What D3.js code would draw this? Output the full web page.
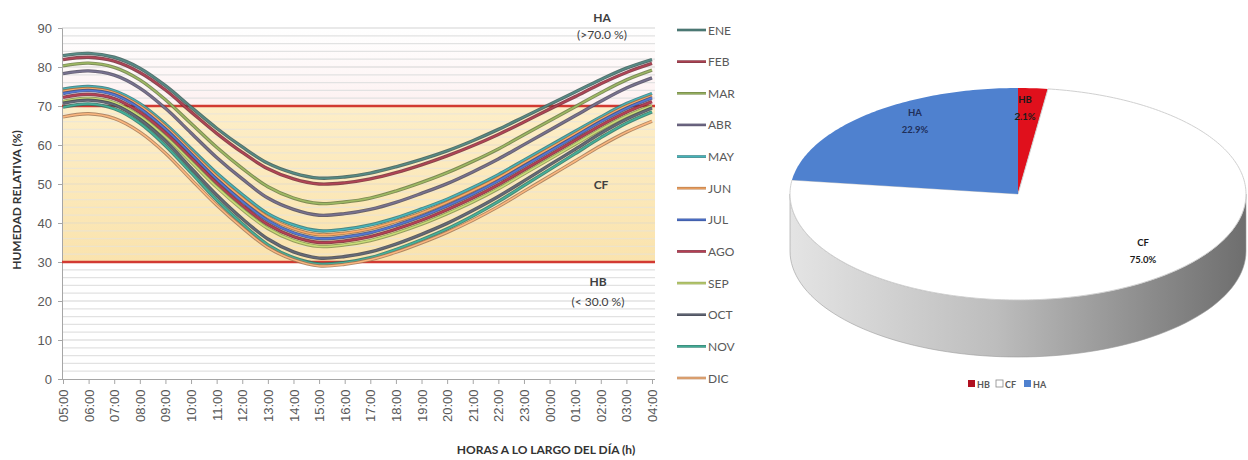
<!DOCTYPE html>
<html>
<head>
<meta charset="utf-8">
<script src="https://cdn.jsdelivr.net/npm/d3@7/dist/d3.min.js"></script>
<style>
  html, body { margin: 0; padding: 0; background: #ffffff; }
  svg { display: block; font-family: Lato, "Open Sans", sans-serif; }
</style>
</head>
<body>
<svg id="chart" width="1248" height="460"></svg>
<script>
// Hourly relative humidity by month (%), 05:00 through 04:00
const hours = ["05:00","06:00","07:00","08:00","09:00","10:00","11:00","12:00","13:00","14:00","15:00","16:00",
               "17:00","18:00","19:00","20:00","21:00","22:00","23:00","00:00","01:00","02:00","03:00","04:00"];
const months = ["ENE","FEB","MAR","ABR","MAY","JUN","JUL","AGO","SEP","OCT","NOV","DIC"];
const monthColors = ["#4d7d78","#a03c4c","#8ea75a","#6c6682","#3fa3a8","#e39a5c",
                     "#4a6cc0","#a5384c","#b4c76b","#5a5f6e","#3ca08c","#e2a472"];

const ene = [82.9,83.5,82.5,79.7,75.2,69.7,64.3,59.5,55.3,52.8,51.5,51.8,52.8,54.4,56.3,58.5,61.1,64.0,67.2,70.4,73.6,76.8,79.7,81.9];
const feb = [81.9,82.5,81.5,78.6,74.1,68.5,63.0,58.1,53.9,51.3,50.0,50.3,51.3,52.9,54.9,57.2,59.8,62.7,65.9,69.2,72.4,75.7,78.6,80.9];
const mar = [80.3,81.0,79.9,76.7,71.6,65.5,59.4,54.0,49.3,46.4,45.0,45.4,46.4,48.2,50.4,52.9,55.8,59.0,62.6,66.2,69.8,73.4,76.7,79.2];
const abr = [78.3,79.0,77.9,74.6,69.4,63.1,56.8,51.3,46.4,43.5,42.0,42.4,43.5,45.3,47.6,50.1,53.1,56.4,60.1,63.8,67.5,71.2,74.6,77.2];
const may = [74.3,75.0,73.9,70.6,65.4,59.1,52.8,47.3,42.4,39.5,38.0,38.4,39.5,41.3,43.6,46.1,49.1,52.4,56.1,59.8,63.5,67.2,70.6,73.2];
const jun = [73.8,74.5,73.4,70.0,64.8,58.4,52.0,46.4,41.5,38.5,37.0,37.4,38.5,40.4,42.6,45.3,48.3,51.6,55.4,59.1,62.9,66.6,70.0,72.6];
const jul = [73.2,74.0,72.9,69.4,64.1,57.7,51.2,45.5,40.6,37.5,36.0,36.4,37.5,39.4,41.7,44.4,47.4,50.8,54.6,58.4,62.2,66.0,69.4,72.1];
const ago = [72.2,73.0,71.9,68.4,63.1,56.7,50.2,44.5,39.6,36.5,35.0,35.4,36.5,38.4,40.7,43.4,46.4,49.8,53.6,57.4,61.2,65.0,68.4,71.1];
const sep = [71.2,72.0,70.9,67.4,62.1,55.7,49.2,43.5,38.6,35.5,34.0,34.4,35.5,37.4,39.7,42.4,45.4,48.8,52.6,56.4,60.2,64.0,67.4,70.1];
const oct = [70.7,71.5,70.3,66.6,61.0,54.1,47.2,41.1,35.9,32.6,31.0,31.4,32.6,34.6,37.1,39.9,43.2,46.8,50.8,54.9,58.9,63.0,66.6,69.5];
const nov = [69.7,70.5,69.3,65.6,59.8,52.9,45.9,39.8,34.4,31.1,29.5,29.9,31.1,33.2,35.7,38.5,41.8,45.5,49.6,53.7,57.8,61.9,65.6,68.5];
const dic = [67.2,68.0,66.8,63.3,57.9,51.2,44.6,38.8,33.7,30.6,29.0,29.4,30.6,32.5,34.9,37.6,40.7,44.2,48.1,52.0,55.9,59.8,63.3,66.1];
const monthValues = [ene,feb,mar,abr,may,jun,jul,ago,sep,oct,nov,dic];

// Comfort thresholds (%)
const upperLimit = 70;
const lowerLimit = 30;
const yTicks = [0,10,20,30,40,50,60,70,80,90];

// Share of hours in each humidity zone
const zoneNames = ["HB","CF","HA"];
const zoneShares = [2.1,75.0,22.9];
const zoneColors = ["#e0101c","#ffffff","#4f81cf"];

const svg = d3.select("#chart");
const defs = svg.append("defs");

/* ---------------- Line chart ---------------- */
const x = d3.scalePoint().domain(hours).range([63, 652]);
const y = d3.scaleLinear().domain([0, 90]).range([379, 28]);
const plotL = 62, plotR = 655;

// comfort band fill
const bandGrad = defs.append("linearGradient").attr("id","band").attr("x1",0).attr("x2",0).attr("y1",0).attr("y2",1);
bandGrad.append("stop").attr("offset","0%").attr("stop-color","#fdeec8");
bandGrad.append("stop").attr("offset","100%").attr("stop-color","#fae3ad");
const topGrad = defs.append("linearGradient").attr("id","topband").attr("x1",0).attr("x2",0).attr("y1",0).attr("y2",1);
topGrad.append("stop").attr("offset","0%").attr("stop-color","#ffffff");
topGrad.append("stop").attr("offset","100%").attr("stop-color","#fdf1f1");

svg.append("rect").attr("x", plotL).attr("width", plotR - plotL)
  .attr("y", y(90)).attr("height", y(upperLimit) - y(90)).attr("fill", "url(#topband)");
svg.append("rect").attr("x", plotL).attr("width", plotR - plotL)
  .attr("y", y(upperLimit)).attr("height", y(lowerLimit) - y(upperLimit)).attr("fill", "url(#band)");

// horizontal gridlines every 2 %
const gridVals = d3.range(2, 91, 2);
svg.append("g").selectAll("line").data(gridVals).join("line")
  .attr("x1", plotL).attr("x2", plotR)
  .attr("y1", d => y(d)).attr("y2", d => y(d))
  .attr("stroke", d => d % 10 === 0 ? "#d4d4d4" : "#e2e2e2")
  .attr("stroke-opacity", d => (d > lowerLimit && d < upperLimit) ? 0.55 : 1)
  .attr("stroke-width", 1.2);

// axes
const yAxis = svg.append("g").attr("transform", `translate(${plotL},0)`)
  .call(d3.axisLeft(y).tickValues(yTicks).tickSize(4).tickPadding(6));
yAxis.select(".domain").attr("stroke", "#a6a6a6");
yAxis.selectAll(".tick line").attr("stroke", "#a6a6a6");
yAxis.selectAll("text").attr("fill", "#595959").attr("font-size", 13);

const xAxis = svg.append("g").attr("transform", `translate(0,${y(0)})`)
  .call(d3.axisBottom(x).tickSize(5).tickPadding(4));
xAxis.select(".domain").attr("stroke", "#a6a6a6").attr("d", `M${plotL},0.5H${plotR}`);
xAxis.selectAll(".tick line").attr("stroke", "#a6a6a6");
xAxis.selectAll("text").attr("fill", "#595959").attr("font-size", 13)
  .attr("transform", "rotate(-90)").attr("text-anchor", "end")
  .attr("dx", "-0.5em").attr("dy", "0.35em").attr("x", -4).attr("y", 0);

// threshold lines
svg.append("g").selectAll("line").data([upperLimit, lowerLimit]).join("line")
  .attr("x1", plotL).attr("x2", plotR)
  .attr("y1", d => y(d)).attr("y2", d => y(d))
  .attr("stroke", "#d23a32").attr("stroke-width", 2.6);

// monthly curves
const line = d3.line().x((d, i) => x(hours[i])).y(d => y(d)).curve(d3.curveCatmullRom);
const curves = svg.append("g");
monthValues.forEach((vals, k) => {
  const c = d3.color(monthColors[k]);
  curves.append("path").attr("d", line(vals)).attr("fill", "none")
    .attr("stroke", c.darker(0.9)).attr("stroke-width", 3.4).attr("stroke-opacity", 0.85);
  curves.append("path").attr("d", line(vals)).attr("fill", "none")
    .attr("stroke", c.brighter(0.3)).attr("stroke-width", 1.5);
});

// zone labels
const zoneText = svg.append("g").attr("font-size", 12).attr("fill", "#404040").attr("text-anchor", "middle");
zoneText.append("text").attr("x", 602).attr("y", 22).attr("font-weight", "bold").text("HA");
zoneText.append("text").attr("x", 602).attr("y", 39).text("(>70.0  %)");
zoneText.append("text").attr("x", 601).attr("y", 189).attr("font-weight", "bold").text("CF");
zoneText.append("text").attr("x", 598).attr("y", 286).attr("font-weight", "bold").text("HB");
zoneText.append("text").attr("x", 598).attr("y", 306).text("(< 30.0 %)");

// axis titles
svg.append("text").attr("transform", "translate(21,200) rotate(-90)")
  .attr("text-anchor", "middle").attr("font-size", 12).attr("font-weight", "bold").attr("fill", "#333")
  .text("HUMEDAD RELATIVA  (%)");
svg.append("text").attr("x", 546).attr("y", 454)
  .attr("text-anchor", "middle").attr("font-size", 12).attr("font-weight", "bold").attr("fill", "#333")
  .text("HORAS A LO LARGO DEL DÍA (h)");

// legend
const legY = d3.scalePoint().domain(months).range([30, 378]);
const leg = svg.append("g");
months.forEach((m, k) => {
  const g = leg.append("g").attr("transform", `translate(0,${legY(m)})`);
  const c = d3.color(monthColors[k]);
  g.append("line").attr("x1", 677).attr("x2", 706).attr("stroke", c.darker(0.6)).attr("stroke-width", 2.6);
  g.append("line").attr("x1", 677).attr("x2", 706).attr("stroke", c.brighter(0.3)).attr("stroke-width", 1);
  g.append("text").attr("x", 708).attr("y", 4.5).attr("font-size", 12).attr("fill", "#595959").text(m);
});

/* ---------------- 3D pie ---------------- */
const cx = 1018, cy = 194, rx = 228, ry = 106, depth = 57;
const pt = (a, dy = 0) => [cx + rx * Math.sin(a), cy - ry * Math.cos(a) + dy];
const arcs = d3.pie().sort(null).value(d => d)(zoneShares);
const poly = d3.line();

// side wall, shaded from light (left) to dark (right)
const sideGrad = defs.append("linearGradient").attr("id","side").attr("x1",0).attr("x2",1).attr("y1",0).attr("y2",0);
sideGrad.append("stop").attr("offset","0%").attr("stop-color","#e4e4e4");
sideGrad.append("stop").attr("offset","45%").attr("stop-color","#bdbdbd");
sideGrad.append("stop").attr("offset","80%").attr("stop-color","#8a8a8a");
sideGrad.append("stop").attr("offset","100%").attr("stop-color","#6e6e6e");

arcs.forEach((a, k) => {
  const s = Math.max(a.startAngle, Math.PI / 2), e = Math.min(a.endAngle, 3 * Math.PI / 2);
  if (e <= s) return;
  const n = 80, topPts = [], botPts = [];
  for (let i = 0; i <= n; i++) {
    const t = s + (e - s) * i / n;
    topPts.push(pt(t));
    botPts.push(pt(t, depth));
  }
  const fill = zoneNames[k] === "CF" ? "url(#side)" : d3.color(zoneColors[k]).darker(0.8);
  svg.append("path").attr("d", poly(topPts.concat(botPts.reverse())) + "Z")
    .attr("fill", fill).attr("stroke", "#9a9a9a").attr("stroke-width", 0.6);
});

// top faces
arcs.forEach((a, k) => {
  const n = Math.max(4, Math.ceil((a.endAngle - a.startAngle) * 60));
  const pts = [[cx, cy]];
  for (let i = 0; i <= n; i++) pts.push(pt(a.startAngle + (a.endAngle - a.startAngle) * i / n));
  svg.append("path").attr("d", poly(pts) + "Z")
    .attr("fill", zoneColors[k])
    .attr("stroke", zoneNames[k] === "CF" ? "#d0d0d0" : "none").attr("stroke-width", 1);
});

// slice labels
const pieLabels = [
  {pos: [1025, 103], color: "#1a1a1a"},
  {pos: [1143, 246], color: "#1a1a1a"},
  {pos: [915, 116], color: "#1f2f5a"}
];
arcs.forEach((a, k) => {
  const g = svg.append("g").attr("font-size", 9.5).attr("font-weight", "bold")
    .attr("fill", pieLabels[k].color).attr("text-anchor", "middle");
  g.append("text").attr("x", pieLabels[k].pos[0]).attr("y", pieLabels[k].pos[1]).text(zoneNames[k]);
  g.append("text").attr("x", pieLabels[k].pos[0]).attr("y", pieLabels[k].pos[1] + 17)
    .text(zoneShares[k].toFixed(1) + "%");
});

// pie legend
const pleg = svg.append("g").attr("transform", "translate(968,384)");
let lx = 0;
zoneNames.forEach((nm, k) => {
  pleg.append("rect").attr("x", lx).attr("y", -4).attr("width", 7).attr("height", 7)
    .attr("fill", zoneNames[k] === "HB" ? "#b01020" : zoneColors[k])
    .attr("stroke", zoneNames[k] === "CF" ? "#888" : "none").attr("stroke-width", 0.8);
  pleg.append("text").attr("x", lx + 9).attr("y", 3.5).attr("font-size", 9).attr("font-weight", "bold")
    .attr("fill", "#595959").text(nm);
  lx += 28;
});
</script>
</body>
</html>
